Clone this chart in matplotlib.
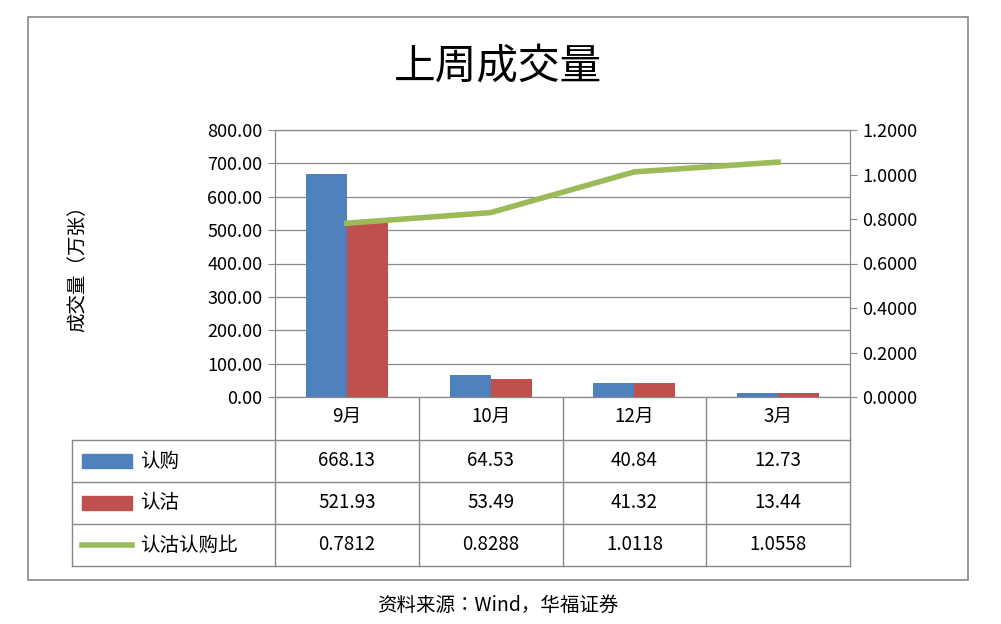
import matplotlib
matplotlib.use("Agg")
import matplotlib.pyplot as plt
from matplotlib.patches import Rectangle

# ---------------- data ----------------
categories = ["9月", "10月", "12月", "3月"]
call_vol = [668.13, 64.53, 40.84, 12.73]
put_vol = [521.93, 53.49, 41.32, 13.44]
ratio = [0.7812, 0.8288, 1.0118, 1.0558]
left_ticks = [0, 100, 200, 300, 400, 500, 600, 700, 800]
right_ticks = [0, 0.2, 0.4, 0.6, 0.8, 1.0, 1.2]

BLUE, RED, GREEN = "#4F81BD", "#C0504D", "#9BBB59"
plt.rcParams["font.family"] = ["Noto Sans CJK SC", "Noto Sans CJK JP",
                               "Noto Sans CJK TC", "Noto Sans CJK KR", "DejaVu Sans"]

W, H = 1001, 624
fig = plt.figure(figsize=(W / 100, H / 100), dpi=100)

# overlay in pixel coordinates for frame / table / texts
ov = fig.add_axes([0, 0, 1, 1])
ov.set_xlim(0, W); ov.set_ylim(H, 0); ov.axis("off")
ov.add_patch(Rectangle((28, 17), 940, 563, fill=False, ec="#888888", lw=1.2))

# ---------------- plot area ----------------
px0, px1, py0, py1 = 275, 850, 130, 397
ax = fig.add_axes([px0 / W, (H - py1) / H, (px1 - px0) / W, (py1 - py0) / H])
x = range(len(categories))
bw = 0.285
ax.bar([i - bw / 2 for i in x], call_vol, bw, color=BLUE, zorder=3)
ax.bar([i + bw / 2 for i in x], put_vol, bw, color=RED, zorder=3)
ax.set_xlim(-0.5, len(categories) - 0.5)
ax.set_ylim(0, 800)
ax.set_yticks(left_ticks)
ax.set_yticklabels([f"{v:.2f}" for v in left_ticks], fontsize=13)
ax.set_xticks([])
ax.grid(axis="y", color="#888888", lw=0.9, zorder=0)
for s in ax.spines.values():
    s.set_color("#888888")
ax.tick_params(axis="y", color="#888888", length=5, pad=4)

ax2 = ax.twinx()
ax2.plot(list(x), ratio, color=GREEN, lw=4, zorder=4)
ax2.set_ylim(0, 1.2)
ax2.set_yticks(right_ticks)
ax2.set_yticklabels([f"{v:.4f}" for v in right_ticks], fontsize=13)
ax2.tick_params(axis="y", color="#888888", length=5, pad=4)
for s in ax2.spines.values():
    s.set_color("#888888")

ov.text(498, 68, "上周成交量", fontsize=30, ha="center", va="center")
ov.text(78, 264, "成交量（万张）", fontsize=14, rotation=90, ha="center", va="center")

# ---------------- data table ----------------
gc = "#888888"
cols = [px0 + i * (px1 - px0) / len(categories) for i in range(len(categories) + 1)]
rows = [397, 440, 482, 524, 566]
for r in rows[1:]:
    ov.plot([72, px1], [r, r], color=gc, lw=1)
ov.plot([72, 72], [rows[1], rows[-1]], color=gc, lw=1)
for c in cols:
    ov.plot([c, c], [rows[0], rows[-1]], color=gc, lw=1)

for i, cat in enumerate(categories):
    cx = (cols[i] + cols[i + 1]) / 2
    ov.text(cx, 416, cat, fontsize=13.5, ha="center", va="center")
    ov.text(cx, 461, f"{call_vol[i]:.2f}", fontsize=13.5, ha="center", va="center")
    ov.text(cx, 503, f"{put_vol[i]:.2f}", fontsize=13.5, ha="center", va="center")
    ov.text(cx, 545, f"{ratio[i]:.4f}", fontsize=13.5, ha="center", va="center")

ov.add_patch(Rectangle((82, 454), 50, 14, color=BLUE))
ov.add_patch(Rectangle((82, 496), 50, 14, color=RED))
ov.plot([82, 132], [545, 545], color=GREEN, lw=4)
ov.text(140, 461, "认购", fontsize=14, va="center")
ov.text(140, 503, "认沽", fontsize=14, va="center")
ov.text(140, 545, "认沽认购比", fontsize=14, va="center")

ov.text(498, 605, "资料来源：Wind，华福证券", fontsize=14, ha="center", va="center")

fig.savefig("out.png", dpi=100)
